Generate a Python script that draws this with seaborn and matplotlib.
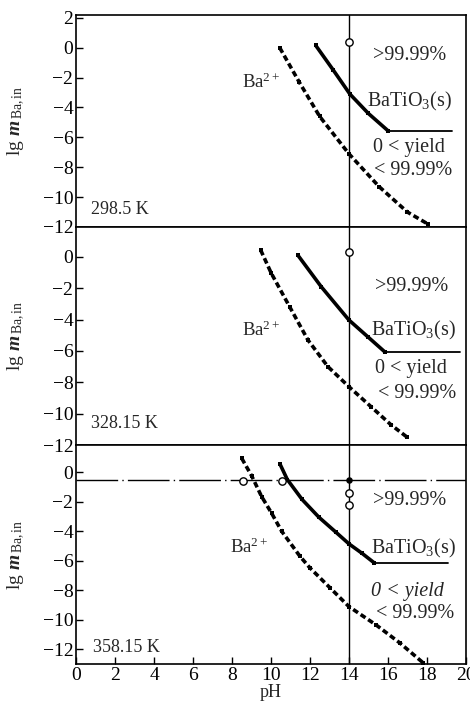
import numpy as np
import pandas as pd
import matplotlib
matplotlib.use("Agg")
import matplotlib.pyplot as plt
import seaborn as sns

# ---------------- data ----------------
TEMPS = ["298.5 K", "328.15 K", "358.15 K"]

# Ba2+ curves (pH, lg m)
BA1_PH = [10.45, 11.45, 12.5, 14.0, 15.55, 17.0, 18.05]
BA1_LG = [0.0, -2.3, -4.6, -7.1, -9.3, -11.0, -11.8]
BA2_PH = [9.47, 10.02, 10.96, 11.9, 12.92, 14.0, 15.14, 16.17, 16.99]
BA2_LG = [0.43, -1.06, -3.19, -5.31, -7.0, -8.28, -9.56, -10.72, -11.5]
BA3_PH = [8.5, 9.01, 9.52, 10.03, 10.55, 11.49, 12.0, 13.03, 14.0, 15.4, 16.6, 17.8]
BA3_LG = [0.94, -0.25, -1.65, -2.77, -4.0, -5.7, -6.48, -7.83, -9.1, -10.35, -11.55, -12.9]

# BaTiO3(s) boundary curves
BT1_PH = [12.3, 13.2, 14.05, 15.0, 16.0]
BT1_LG = [0.15, -1.5, -3.1, -4.4, -5.55]
BT2_PH = [11.38, 12.58, 14.0, 14.97, 15.83]
BT2_LG = [0.1, -1.91, -4.03, -5.1, -6.05]
BT3_PH = [10.46, 10.84, 11.6, 12.46, 13.32, 14.0, 14.68, 15.28]
BT3_LG = [0.56, -0.5, -1.85, -3.05, -4.05, -4.85, -5.5, -6.12]

# plateau end pH of the BaTiO3 floor
BT_END_PH = [19.3, 19.7, 19.1]

# open circles (experimental points)
C1_PH = [14.0]
C1_LG = [0.35]
C2_PH = [14.0]
C2_LG = [0.32]
C3_PH = [8.55, 10.58, 14.0, 14.0]
C3_LG = [-0.57, -0.57, -1.38, -2.2]
DOT3_PH = [14.0]
DOT3_LG = [-0.52]

PH_LINE = 14.0
H_LINE3 = -0.55

YLIMS = [(-12, 2.2), (-12, 1.9), (-13, 1.84)]
YTICKS = [[2, 0, -2, -4, -6, -8, -10, -12],
          [0, -2, -4, -6, -8, -10, -12],
          [0, -2, -4, -6, -8, -10, -12]]
XTICKS = list(range(0, 21, 2))

# label positions (pH, lg m)
LBL_BA = [(9.5, -2.3), (9.5, -4.7), (8.9, -5.1)]
LBL_GT = [(17.1, -0.5), (17.2, -1.9), (17.1, -1.9)]
LBL_BT = [(17.1, -3.6), (17.3, -4.7), (17.3, -5.2)]
LBL_Y1 = [(17.1, -6.7), (17.2, -7.1), (17.0, -8.1)]
LBL_Y2 = [(17.3, -8.2), (17.5, -8.7), (17.4, -9.6)]
LBL_T = [(0.75, -10.8), (0.75, -10.6), (0.85, -11.9)]

# ---------------- style ----------------
sns.set_style("ticks")
plt.rcParams['font.family'] = ['Liberation Serif', 'DejaVu Serif']
plt.rcParams['mathtext.fontset'] = 'custom'
plt.rcParams['mathtext.rm'] = 'Liberation Serif'
plt.rcParams['mathtext.it'] = 'Liberation Serif:italic'
plt.rcParams['mathtext.bf'] = 'Liberation Serif:bold'
plt.rcParams['mathtext.bfit'] = 'Liberation Serif:bold:italic'

fig = plt.figure(figsize=(4.7, 7.08), dpi=100)
gs = fig.add_gridspec(3, 1, left=0.162, right=0.991, top=0.979, bottom=0.062,
                      hspace=0, height_ratios=[212, 218, 219])
axes = [fig.add_subplot(gs[i]) for i in range(3)]

ba = [(BA1_PH, BA1_LG), (BA2_PH, BA2_LG), (BA3_PH, BA3_LG)]
bt = [(BT1_PH, BT1_LG), (BT2_PH, BT2_LG), (BT3_PH, BT3_LG)]
circ = [(C1_PH, C1_LG), (C2_PH, C2_LG), (C3_PH, C3_LG)]

for i, ax in enumerate(axes):
    ax.axvline(PH_LINE, color='black', lw=1.0, zorder=1)
    if i == 2:
        ax.axhline(H_LINE3, color='black', lw=1.0,
                   linestyle=(0, (30, 3, 1, 3)), zorder=1)

    dfb = pd.DataFrame({"pH": ba[i][0], "lg": ba[i][1]})
    sns.lineplot(data=dfb, x="pH", y="lg", ax=ax, color='black', sort=False,
                 lw=2.6, linestyle=(0, (1.6, 0.9)), marker='s', markersize=3.5,
                 markeredgewidth=0, zorder=3)

    dft = pd.DataFrame({"pH": bt[i][0], "lg": bt[i][1]})
    sns.lineplot(data=dft, x="pH", y="lg", ax=ax, color='black', sort=False,
                 lw=2.6, marker='s', markersize=3.5, markeredgewidth=0, zorder=3)
    dfp = pd.DataFrame({"pH": [bt[i][0][-1], BT_END_PH[i]],
                        "lg": [bt[i][1][-1], bt[i][1][-1]]})
    sns.lineplot(data=dfp, x="pH", y="lg", ax=ax, color='black', sort=False,
                 lw=1.3, zorder=3)

    dfc = pd.DataFrame({"pH": circ[i][0], "lg": circ[i][1]})
    sns.scatterplot(data=dfc, x="pH", y="lg", ax=ax, s=28, marker='o',
                    facecolor='white', edgecolor='black', linewidth=1.0,
                    zorder=4)
    if i == 2:
        dfd = pd.DataFrame({"pH": DOT3_PH, "lg": DOT3_LG})
        sns.scatterplot(data=dfd, x="pH", y="lg", ax=ax, s=22, marker='o',
                        color='black', linewidth=0, zorder=5)

    fs = 14.5
    ax.text(*LBL_BA[i], r"Ba$^{2+}$", fontsize=13.5, ha='center', va='center')
    ax.text(*LBL_GT[i], ">99.99%", fontsize=fs, ha='center', va='center')
    ax.text(*LBL_BT[i], r"BaTiO$_3$(s)", fontsize=fs, ha='center', va='center')
    ax.text(*LBL_Y1[i], "0 < yield", fontsize=fs, ha='center', va='center',
            style='italic' if i == 2 else 'normal')
    ax.text(*LBL_Y2[i], "< 99.99%", fontsize=fs, ha='center', va='center')
    ax.text(*LBL_T[i], TEMPS[i], fontsize=13, ha='left', va='center')

    ax.set_xlim(0, 20)
    ax.set_ylim(*YLIMS[i])
    ax.set_yticks(YTICKS[i])
    ax.set_xticks(XTICKS)
    ax.tick_params(direction='in', length=5, width=1.0, labelsize=14, pad=2,
                   colors='black')
    ax.set_ylabel(r"lg $\mathbfit{m}_{\,\mathrm{Ba,in}}$", fontsize=14)
    ax.yaxis.set_label_coords(-0.125, 0.5)
    for sp in ax.spines.values():
        sp.set_visible(True)
        sp.set_linewidth(1.2)
        sp.set_color('black')
    if i < 2:
        ax.tick_params(axis='x', bottom=False, labelbottom=False)
        ax.set_xlabel("")
    else:
        ax.set_xlabel("pH", fontsize=13, labelpad=0)

fig.savefig("out.png", dpi=100)
